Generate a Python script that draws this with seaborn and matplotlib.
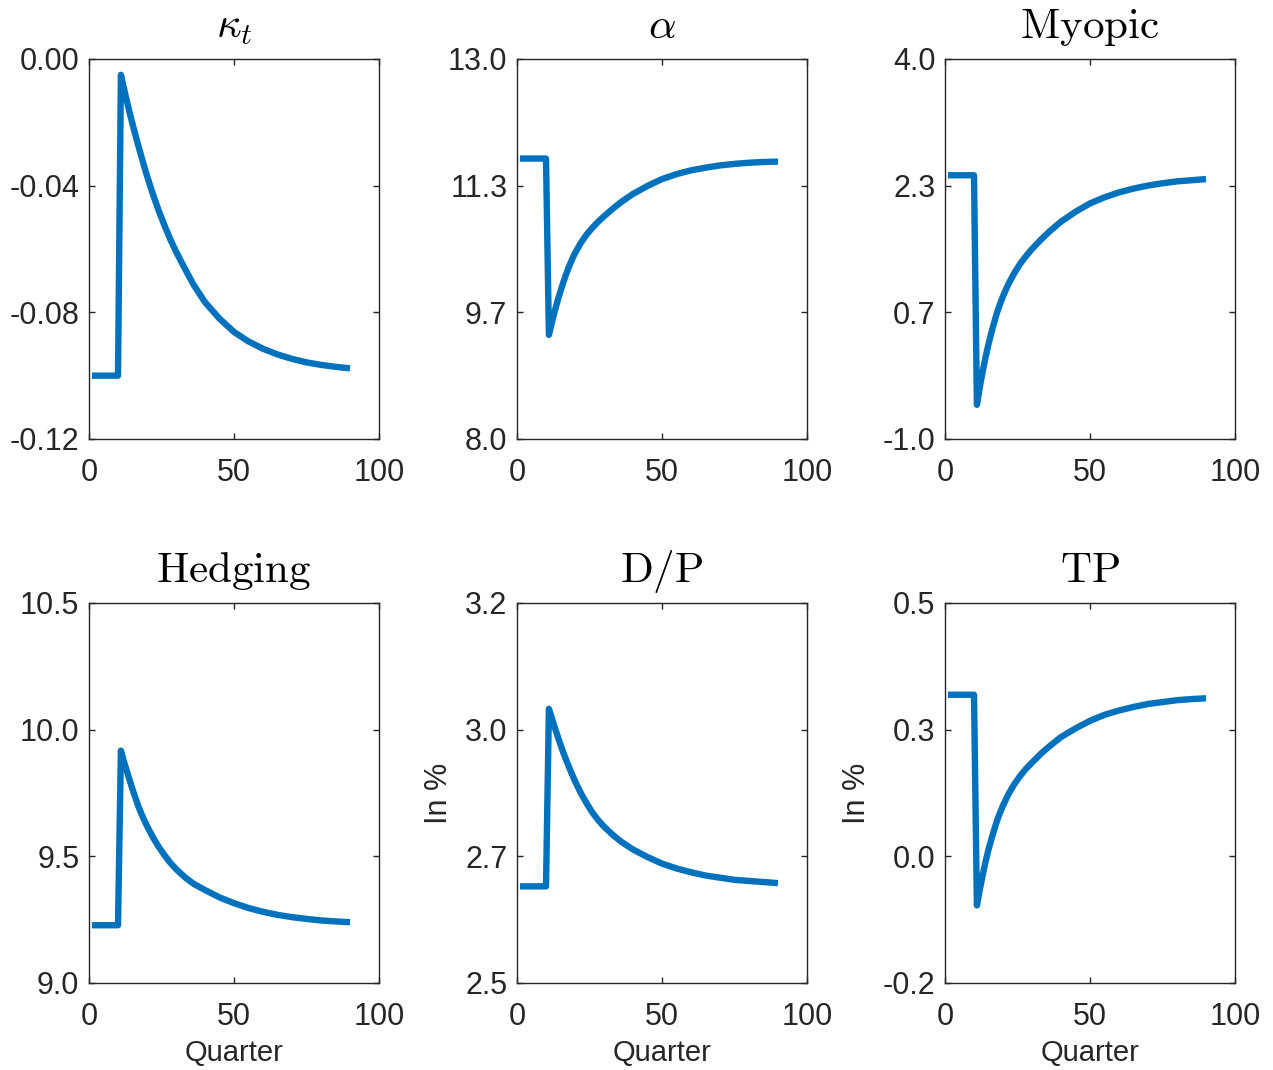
import numpy as np
import pandas as pd
import matplotlib
matplotlib.use('Agg')
import matplotlib.pyplot as plt
import seaborn as sns
from matplotlib.ticker import FixedLocator, FormatStrFormatter

# Impulse responses (values at selected quarters)
quarters = [1, 10, 11, 12, 13, 14, 15, 16, 17, 18, 19, 20, 22, 24, 26, 28,
            30, 33, 36, 40, 45, 50, 55, 60, 65, 70, 75, 80, 85, 90]

kappa = [-0.100, -0.100, -0.0050, -0.0091, -0.0131, -0.0169, -0.0205, -0.0240,
         -0.0273, -0.0306, -0.0338, -0.0369, -0.0426, -0.0478, -0.0525, -0.0569,
         -0.0608, -0.0661, -0.0712, -0.0768, -0.0820, -0.0862, -0.0892, -0.0915,
         -0.0933, -0.0947, -0.0958, -0.0966, -0.0972, -0.0977]
alpha = [11.69, 11.69, 9.37, 9.53, 9.68, 9.82, 9.945, 10.065, 10.175, 10.275,
         10.365, 10.445, 10.58, 10.69, 10.78, 10.86, 10.93, 11.03, 11.12, 11.225,
         11.33, 11.42, 11.485, 11.535, 11.57, 11.60, 11.62, 11.635, 11.645, 11.65]
myopic = [2.47, 2.47, -0.55, -0.32, -0.11, 0.08, 0.25, 0.40, 0.54, 0.67, 0.78,
          0.88, 1.05, 1.19, 1.31, 1.41, 1.50, 1.62, 1.73, 1.86, 1.99, 2.10,
          2.18, 2.245, 2.295, 2.335, 2.365, 2.39, 2.405, 2.42]
hedging = [9.228, 9.228, 9.917, 9.876, 9.838, 9.801, 9.765, 9.731, 9.698,
           9.670, 9.644, 9.620, 9.576, 9.538, 9.505, 9.475, 9.450, 9.418, 9.392,
           9.367, 9.338, 9.315, 9.296, 9.281, 9.269, 9.260, 9.253, 9.247, 9.243,
           9.240]
dp = [2.678, 2.678, 3.005, 2.988, 2.971, 2.955, 2.939, 2.924, 2.910, 2.897,
      2.884, 2.872, 2.850, 2.831, 2.814, 2.800, 2.788, 2.773, 2.760, 2.746,
      2.732, 2.720, 2.711, 2.704, 2.698, 2.694, 2.690, 2.688, 2.686, 2.684]
tp = [0.331, 0.331, -0.057, -0.028, -0.001, 0.024, 0.046, 0.065, 0.083, 0.100,
      0.114, 0.127, 0.149, 0.167, 0.182, 0.195, 0.206, 0.222, 0.236, 0.253,
      0.269, 0.283, 0.294, 0.302, 0.3085, 0.314, 0.3175, 0.321, 0.323, 0.3245]

titles = [r'$\kappa_t$', r'$\alpha$', r'$\mathrm{Myopic}$',
          r'$\mathrm{Hedging}$', r'$\mathrm{D/P}$', r'$\mathrm{TP}$']
series = [kappa, alpha, myopic, hedging, dp, tp]
ylims = [(-0.12, 0.0), (8.0, 13.0), (-1.0, 4.0), (9.0, 10.5), (2.5, 3.2), (-0.2, 0.5)]
yfmts = ['%.2f', '%.1f', '%.1f', '%.1f', '%.1f', '%.1f']
ylabels = ['', '', '', '', 'In %', 'In %']
xticks = [0, 50, 100]

sns.set_theme(style='ticks')
plt.rcParams['font.family'] = ['Liberation Sans', 'DejaVu Sans']
plt.rcParams['mathtext.fontset'] = 'cm'
plt.rcParams['axes.unicode_minus'] = False

dark = '#262626'
blue = '#0072BD'

fig = plt.figure(figsize=(12.73, 10.70), dpi=100)
lefts = [89 / 1273, 517 / 1273, 945 / 1273]
bottoms = [1 - 439 / 1070, 1 - 983 / 1070]
w, h = 290 / 1273, 380 / 1070

for i, (vals, title) in enumerate(zip(series, titles)):
    r, c = divmod(i, 3)
    ax = fig.add_axes([lefts[c], bottoms[r], w, h])
    df = pd.DataFrame({'Quarter': quarters, 'value': vals})
    sns.lineplot(data=df, x='Quarter', y='value', ax=ax, color=blue,
                 linewidth=4.6, solid_joinstyle='round', solid_capstyle='butt')
    lo, hi = ylims[i]
    ax.set_xlim(0, 100)
    ax.set_ylim(lo, hi)
    ax.xaxis.set_major_locator(FixedLocator(xticks))
    ax.yaxis.set_major_locator(FixedLocator(np.linspace(lo, hi, 4)))
    ax.yaxis.set_major_formatter(FormatStrFormatter(yfmts[i]))
    for sp in ax.spines.values():
        sp.set_visible(True)
        sp.set_color(dark)
        sp.set_linewidth(1.0)
    ax.tick_params(direction='in', top=True, right=True, length=4, width=1,
                   color=dark, labelcolor=dark, labelsize=22)
    ax.tick_params(axis='x', pad=14)
    ax.tick_params(axis='y', pad=7)
    ax.set_title(title, fontsize=31, color='black', pad=15)
    ax.set_xlabel('Quarter' if r == 1 else '', fontsize=21, color=dark, labelpad=5)
    ax.set_ylabel(ylabels[i], fontsize=22, color=dark, labelpad=8)

fig.savefig('out.png', dpi=100)
